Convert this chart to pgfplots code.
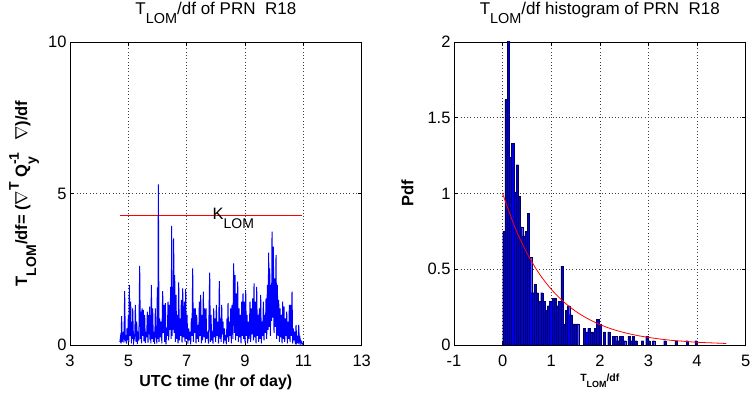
\documentclass[border=0pt]{standalone}
\usepackage{fontspec}
\setmainfont{Liberation Sans}
\usepackage{pgfplots}
\pgfplotsset{compat=1.18}
\newcommand\sub[1]{\raisebox{-0.55em}{\scalebox{0.85}{#1}}}
\newcommand\sups[1]{\raisebox{0.5em}{\scalebox{0.85}{#1}}}
\newcommand\fs[1]{\fontsize{#1}{#1}\selectfont}
\definecolor{histblue}{RGB}{0,0,230}
\definecolor{histedge}{RGB}{0,0,90}

\pgfplotstableread{
t v
4.710 0.10
4.730 0.25
4.750 0.05
4.770 0.95
4.790 0.10
4.829 0.44
4.850 0.08
4.874 1.78
4.897 0.12
4.920 0.33
4.937 0.05
4.954 0.55
4.977 0.15
5.000 0.99
5.017 0.10
5.034 1.98
5.057 0.30
5.080 1.43
5.103 0.05
5.126 0.77
5.137 0.20
5.149 1.21
5.178 0.08
5.206 0.22
5.223 0.40
5.240 1.32
5.263 0.10
5.286 0.77
5.309 0.03
5.331 0.33
5.360 0.15
5.389 2.61
5.412 0.20
5.434 1.10
5.452 0.05
5.469 1.21
5.491 0.30
5.514 1.16
5.537 0.12
5.560 0.99
5.583 0.06
5.606 0.44
5.629 0.25
5.651 1.10
5.674 0.08
5.697 0.99
5.714 0.35
5.731 1.27
5.743 0.15
5.754 0.88
5.772 0.05
5.789 1.98
5.811 0.20
5.834 1.21
5.857 0.10
5.880 0.44
5.903 0.04
5.926 1.21
5.943 0.30
5.960 0.33
5.977 0.05
5.994 1.90
6.011 0.20
6.029 5.30
6.051 0.10
6.074 0.88
6.097 0.25
6.120 0.77
6.149 0.05
6.177 1.78
6.200 0.40
6.223 1.32
6.246 0.10
6.269 1.38
6.291 0.02
6.314 0.44
6.337 0.30
6.360 1.43
6.383 0.15
6.406 1.32
6.429 0.50
6.451 1.92
6.469 0.20
6.486 3.93
6.503 0.30
6.520 1.92
6.537 0.50
6.554 3.52
6.571 0.40
6.589 2.31
6.611 0.10
6.634 1.65
6.657 0.20
6.680 0.99
6.703 0.05
6.726 2.07
6.749 0.15
6.771 0.88
6.794 0.30
6.817 1.49
6.840 0.08
6.863 1.87
6.891 0.25
6.920 1.43
6.943 0.10
6.966 1.85
6.989 0.20
7.011 0.99
7.040 0.05
7.069 0.55
7.091 0.15
7.114 0.44
7.137 0.02
7.160 0.88
7.183 0.30
7.206 2.53
7.229 0.10
7.251 1.21
7.274 0.40
7.297 1.21
7.320 0.05
7.343 0.99
7.366 0.20
7.389 0.66
7.411 0.10
7.434 1.43
7.457 0.30
7.480 1.65
7.503 0.05
7.526 0.99
7.549 0.15
7.571 1.76
7.594 0.25
7.617 1.21
7.640 0.08
7.663 1.21
7.686 0.20
7.709 0.44
7.749 0.05
7.789 2.39
7.811 0.10
7.834 0.99
7.857 0.15
7.880 0.33
7.903 0.05
7.926 1.21
7.949 0.25
7.971 0.88
7.994 0.10
8.017 1.32
8.040 0.30
8.063 0.77
8.091 0.05
8.120 2.11
8.143 0.20
8.166 0.88
8.183 0.10
8.200 1.32
8.223 0.35
8.246 0.77
8.269 0.05
8.291 0.55
8.314 0.15
8.337 0.33
8.360 0.02
8.383 0.88
8.400 0.25
8.417 1.38
8.440 0.10
8.463 0.77
8.486 0.30
8.509 1.21
8.531 0.05
8.554 1.32
8.583 0.20
8.611 2.69
8.634 0.40
8.657 2.31
8.680 0.15
8.703 1.70
8.726 0.30
8.749 2.09
8.771 0.10
8.794 1.21
8.817 0.25
8.840 0.99
8.863 0.05
8.886 1.43
8.909 0.30
8.931 1.70
8.954 0.20
8.977 1.43
9.000 0.08
9.023 1.81
9.046 0.30
9.069 0.99
9.091 0.05
9.114 0.77
9.143 0.20
9.171 1.43
9.194 0.10
9.217 1.21
9.240 0.35
9.263 1.54
9.286 0.15
9.309 2.03
9.331 0.25
9.354 1.43
9.377 0.05
9.400 1.92
9.423 0.30
9.446 0.99
9.469 0.10
9.491 1.21
9.514 0.20
9.537 1.65
9.560 0.05
9.583 0.77
9.606 0.30
9.629 1.43
9.651 0.15
9.674 0.99
9.697 0.40
9.720 1.54
9.743 0.20
9.766 1.98
9.789 0.50
9.811 3.05
9.829 0.60
9.846 2.53
9.869 0.30
9.891 1.98
9.909 0.80
9.926 3.74
9.949 0.90
9.971 3.25
9.994 0.40
10.017 2.20
10.040 0.60
10.063 2.97
10.086 0.20
10.109 1.98
10.131 0.30
10.154 1.49
10.177 0.10
10.200 1.21
10.223 0.25
10.246 0.99
10.269 0.05
10.291 1.43
10.314 0.20
10.337 1.27
10.360 0.10
10.383 0.88
10.406 0.30
10.429 1.10
10.451 0.05
10.474 0.77
10.497 0.20
10.520 1.32
10.543 0.10
10.566 1.32
10.589 0.30
10.611 1.76
10.634 0.05
10.657 0.55
10.680 0.15
10.703 0.44
10.726 0.02
10.749 0.66
10.771 0.10
10.794 0.22
10.817 0.05
10.840 0.66
10.863 0.10
10.886 0.22
10.914 0.04
10.943 0.11
10.970 0.03
11.000 0.05
}\tseries

\pgfplotstableread{
x h
0.000 0.75
0.046 1.62
0.092 2.05
0.138 1.24
0.184 1.33
0.230 1.01
0.276 1.19
0.322 0.98
0.368 0.78
0.414 0.72
0.460 0.75
0.506 0.87
0.552 0.58
0.598 0.345
0.644 0.40
0.690 0.345
0.736 0.29
0.782 0.345
0.828 0.29
0.874 0.23
0.920 0.26
0.966 0.29
1.012 0.31
1.058 0.31
1.104 0.26
1.150 0.29
1.196 0.52
1.242 0.14
1.288 0.23
1.334 0.26
1.380 0.20
1.426 0.14
1.472 0.14
1.518 0.14
1.564 0
1.610 0
1.656 0.11
1.702 0.086
1.748 0.11
1.794 0.086
1.840 0.086
1.886 0.11
1.932 0.17
1.978 0.14
2.024 0
2.070 0.086
2.116 0
2.162 0.086
2.208 0
2.254 0.057
2.300 0.057
2.346 0.029
2.392 0.057
2.438 0.057
2.484 0.029
2.530 0
2.576 0.057
2.622 0.029
2.668 0.057
2.714 0.029
2.760 0
2.806 0
2.852 0.029
2.898 0
2.944 0.057
2.990 0.029
3.036 0
3.082 0.029
3.128 0
3.174 0
3.220 0
3.266 0
3.312 0.029
3.358 0
3.404 0
3.450 0
3.496 0
3.542 0.029
3.588 0
3.634 0
3.680 0
3.726 0
3.772 0.029
3.818 0
3.864 0
3.910 0
3.956 0.029
4.002 0
}\histdata

\pgfplotsset{
  mystyle/.style={
    scale only axis, width=291.7bp, height=303bp,
    axis line style={black, line width=0.6pt},
    tick align=inside, major tick length=4bp,
    tick style={black, line width=0.5pt},
    grid=major,
    major grid style={black!75, dash pattern=on 0.7pt off 2.6pt, line width=0.5pt},
    ticklabel style={font=\fs{16.5bp}},
    /pgf/number format/assume math mode=true,
    xticklabel style={anchor=base, yshift=-21.5bp},
    title style={font=\fs{17bp}, at={(0.5,1)}, anchor=base, yshift=22bp},
    clip=true,
  }
}

\begin{document}
\begin{tikzpicture}
\useasboundingbox (0,0) rectangle (753bp,395bp);

\begin{axis}[mystyle, at={(70bp,50bp)}, anchor=south west,
  xmin=3, xmax=13, ymin=0, ymax=10,
  xtick={3,5,7,9,11,13}, ytick={0,5,10},
  title={T\sub{LOM}/df of PRN\ \ R18},
  xlabel={UTC time (hr of day)},
  xlabel style={font=\bfseries\fs{16bp}, at={(axis description cs:0.5,0)}, anchor=base, yshift=-41.5bp},
  ylabel={T\sub{LOM}/df= ($\nabla$\sups{T} Q\makebox[0.9em][l]{\rlap{\sups{-1}}\sub{y}}\ \ $\nabla$)/df},
  ylabel style={font=\bfseries\fs{16.5bp}, at={(axis description cs:-0.1474,0.5)}, anchor=base, rotate=0},
]
\addplot[red, line width=0.9pt] coordinates {(4.71,4.28) (10.94,4.28)};
\addplot[blue, line width=1pt] table[x=t, y=v] {\tseries};
\node[anchor=base west, font=\fs{16.5bp}, inner sep=0pt] at (axis cs:7.88,4.13) {K\sub{LOM}};
\end{axis}

\begin{axis}[mystyle, at={(454bp,50bp)}, anchor=south west,
  xmin=-1, xmax=5, ymin=0, ymax=2,
  xtick={-1,0,1,2,3,4,5}, xticklabels={-1,0,1,2,3,4,5},
  ytick={0,0.5,1,1.5,2}, yticklabels={0,0.5,1,1.5,2},
  title={T\sub{LOM}/df histogram of PRN\ \ R18},
  xlabel={T\sub{LOM}/df},
  xlabel style={font=\bfseries\fs{10.5bp}, at={(axis description cs:0.5,0)}, anchor=base, yshift=-36.5bp},
  ylabel={Pdf},
  ylabel style={font=\bfseries\fs{16.5bp}, at={(axis description cs:-0.1395,0.5)}, anchor=base, rotate=0},
]
\addplot[ybar interval, fill=histblue, draw=histedge, line width=0.2pt] table[x=x, y=h] {\histdata};
\addplot[red, line width=0.8pt, smooth] coordinates {
(0,1.0) (0.25,0.779) (0.5,0.607) (0.75,0.472) (1,0.368) (1.25,0.287) (1.5,0.223) (1.75,0.174) (2,0.135) (2.25,0.105) (2.5,0.082) (2.75,0.064) (3,0.050) (3.25,0.039) (3.5,0.030) (3.75,0.024) (4,0.018) (4.3,0.014) (4.6,0.010)};
\end{axis}
\end{tikzpicture}
\end{document}
